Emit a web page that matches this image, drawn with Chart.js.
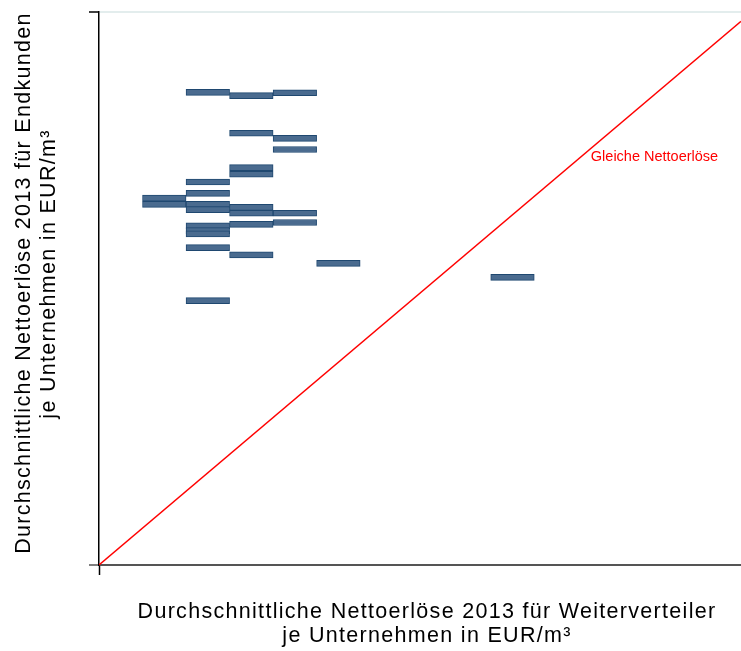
<!DOCTYPE html>
<html lang="de">
<head>
<meta charset="utf-8">
<title>Nettoerlöse 2013</title>
<script src="https://cdn.jsdelivr.net/npm/chart.js@4/dist/chart.umd.min.js"></script>
<style>
  html, body { margin: 0; padding: 0; background: #ffffff; }
  #wrap { width: 741px; height: 651px; position: relative; }
</style>
</head>
<body>
<div id="wrap"><canvas id="chart"></canvas></div>
<script>
// Durchschnittliche Nettoerlöse je Unternehmen 2013
// Weiterverteiler-Klasse (von/bis) und Endkunden-Erlös je Unternehmen
const weiterverteilerVon = [2, 3, 4, 3, 4, 4, 3, 3, 2, 2, 1, 1, 2, 2, 3, 3, 4, 4, 3, 2, 2, 2, 2, 3, 5, 2, 9];
const weiterverteilerBis = [3, 4, 5, 4, 5, 5, 4, 4, 3, 3, 2, 2, 3, 3, 4, 4, 5, 5, 4, 3, 3, 3, 3, 4, 6, 3, 10];
const endkundenErloes   = [12.82, 12.73, 12.81, 11.71, 11.57, 11.27, 10.78, 10.60, 10.39, 10.08,
                           9.95, 9.78, 9.78, 9.64, 9.70, 9.54, 9.54, 9.29, 9.24, 9.20,
                           9.07, 8.98, 8.61, 8.41, 8.18, 7.17, 7.80];

// Achsenbereiche
const xBereich = [0, 14.75];
const yBereich = [0, 15];

// Linie gleicher Nettoerlöse (y = x) und ihre Beschriftung
const gleicheLinie = [xBereich[0], xBereich[1]];
const gleicheLabel = { text: 'Gleiche Nettoerlöse', x: 11.30, y: 11.08 };

const xTitel = ['Durchschnittliche Nettoerlöse 2013 für Weiterverteiler', 'je Unternehmen in EUR/m³'];
const yTitel = ['Durchschnittliche Nettoerlöse 2013 für Endkunden', 'je Unternehmen in EUR/m³'];

const FONT = "'Liberation Sans', Arial, Helvetica, sans-serif";
const TITEL_FONT = '21.5px ' + FONT;
const TITEL_SPERRUNG = '1.3px';

const balken = endkundenErloes.map((v, i) => ({ y: v, x: [weiterverteilerVon[i], weiterverteilerBis[i]] }));
const linie = gleicheLinie.map(v => ({ x: v, y: v }));

// Achsentitel: zweizeilig, leicht gesperrt, unterhalb bzw. links der Zeichenfläche
const titelPlugin = {
  id: 'achsenTitel',
  afterDraw(chart) {
    const { ctx, chartArea: a } = chart;
    const mitteX = (a.left + a.right) / 2;
    const mitteY = (a.top + a.bottom) / 2;
    ctx.save();
    ctx.font = TITEL_FONT;
    ctx.letterSpacing = TITEL_SPERRUNG;
    ctx.fillStyle = '#000000';
    ctx.textAlign = 'center';
    ctx.textBaseline = 'middle';
    // x-Achse
    ctx.fillText(xTitel[0], mitteX + 7, a.bottom + 47.5);
    ctx.fillText(xTitel[1], mitteX + 7, a.bottom + 71);
    // y-Achse (gedreht)
    [[yTitel[0], 24, mitteY - 5.5], [yTitel[1], 49.5, mitteY - 14.5]].forEach(([t, px, py]) => {
      ctx.save();
      ctx.translate(px, py);
      ctx.rotate(-Math.PI / 2);
      ctx.fillText(t, 0, 0);
      ctx.restore();
    });
    ctx.restore();
  }
};

const labelPlugin = {
  id: 'gleicheLabel',
  afterDatasetsDraw(chart) {
    const { ctx, scales } = chart;
    ctx.save();
    ctx.font = '14.5px ' + FONT;
    ctx.fillStyle = '#ff0000';
    ctx.textAlign = 'left';
    ctx.textBaseline = 'middle';
    ctx.fillText(gleicheLabel.text, scales.x.getPixelForValue(gleicheLabel.x), scales.y.getPixelForValue(gleicheLabel.y));
    ctx.restore();
  }
};

new Chart(document.getElementById('chart'), {
  type: 'scatter',
  data: {
    datasets: [
      {
        type: 'bar',
        indexAxis: 'y',
        data: balken,
        backgroundColor: '#4a6b8f',
        borderColor: '#1f4870',
        borderWidth: 1,
        borderSkipped: false,
        barThickness: 6,
        grouped: false
      },
      {
        type: 'line',
        data: linie,
        borderColor: '#ff0000',
        borderWidth: 1.4,
        pointRadius: 0,
        fill: false,
        tension: 0
      }
    ]
  },
  options: {
    responsive: true,
    maintainAspectRatio: false,
    animation: false,
    events: [],
    layout: { padding: { top: 12, right: 0, left: 0, bottom: 0 } },
    plugins: { legend: { display: false }, tooltip: { enabled: false } },
    scales: {
      x: {
        type: 'linear',
        min: xBereich[0],
        max: xBereich[1],
        offset: false,
        border: { display: true, color: '#555555', width: 2 },
        grid: { display: true, offset: false, drawOnChartArea: false, drawTicks: true, tickLength: 10, tickColor: '#000000', tickWidth: 1.5 },
        ticks: { display: false },
        afterBuildTicks: s => { s.ticks = [{ value: xBereich[0] }]; },
        afterFit: s => { s.height = 86; }
      },
      y: {
        type: 'linear',
        min: yBereich[0],
        max: yBereich[1],
        offset: false,
        border: { display: true, color: '#000000', width: 1.5 },
        grid: {
          display: true, offset: false, drawOnChartArea: true, drawTicks: true, tickLength: 10,
          color: c => (c.tick && c.tick.value === yBereich[1]) ? '#e3eded' : 'rgba(0,0,0,0)',
          lineWidth: 2,
          tickColor: c => (c.tick && c.tick.value === yBereich[0]) ? '#555555' : '#000000',
          tickWidth: 1.5
        },
        ticks: { display: false },
        afterBuildTicks: s => { s.ticks = [{ value: yBereich[0] }, { value: yBereich[1] }]; },
        afterFit: s => { s.width = 99; }
      }
    }
  },
  plugins: [labelPlugin, titelPlugin]
});
</script>
</body>
</html>
